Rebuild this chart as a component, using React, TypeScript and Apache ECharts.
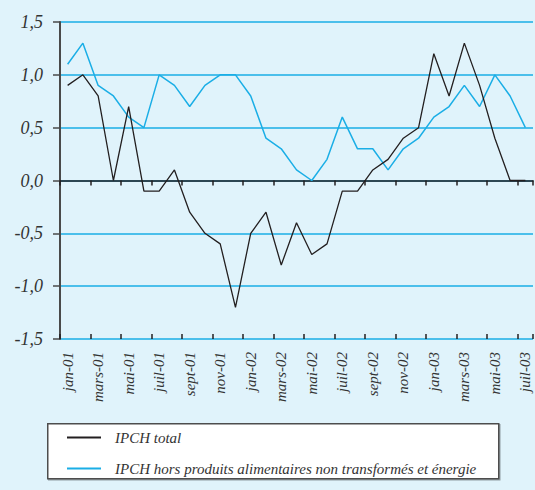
import React, { useEffect, useRef } from "react";
import * as echarts from "echarts";

const categories = [
  "jan-01", "févr-01", "mars-01", "avr-01", "mai-01", "juin-01", "juil-01", "août-01", "sept-01", "oct-01", "nov-01", "déc-01",
  "jan-02", "févr-02", "mars-02", "avr-02", "mai-02", "juin-02", "juil-02", "août-02", "sept-02", "oct-02", "nov-02", "déc-02",
  "jan-03", "févr-03", "mars-03", "avr-03", "mai-03", "juin-03", "juil-03",
];

const ipchTotal = [
  0.9, 1.0, 0.8, 0.0, 0.7, -0.1, -0.1, 0.1, -0.3, -0.5, -0.6, -1.2,
  -0.5, -0.3, -0.8, -0.4, -0.7, -0.6, -0.1, -0.1, 0.1, 0.2, 0.4, 0.5,
  1.2, 0.8, 1.3, 0.9, 0.4, 0.0, 0.0,
];

const ipchHors = [
  1.1, 1.3, 0.9, 0.8, 0.6, 0.5, 1.0, 0.9, 0.7, 0.9, 1.0, 1.0,
  0.8, 0.4, 0.3, 0.1, 0.0, 0.2, 0.6, 0.3, 0.3, 0.1, 0.3, 0.4,
  0.6, 0.7, 0.9, 0.7, 1.0, 0.8, 0.5,
];

const seriesNames = [
  "IPCH total",
  "IPCH hors produits alimentaires non transformés et énergie",
];

const FONT = "Liberation Serif";
const BLUE = "#1aaee6";
const DARK = "#231f20";
const AXIS = "#4a4a4a";
const TEXT = "#333333";

export default function App() {
  const ref = useRef<HTMLDivElement>(null);
  useEffect(() => {
    if (!ref.current) return;
    const chart = echarts.init(ref.current, null, { renderer: "svg" });
    chart.setOption({
      animation: false,
      backgroundColor: "#e0f3fb",
      textStyle: { fontFamily: FONT },
      grid: { left: 60, right: 2, top: 22, bottom: 151, containLabel: false },
      xAxis: [
        {
          type: "category",
          position: "bottom",
          data: categories,
          boundaryGap: true,
          axisLine: { lineStyle: { color: DARK, width: 1.5 } },
          axisTick: { show: true, inside: false, length: 5, interval: 1, lineStyle: { color: DARK, width: 1.5 } },
          axisLabel: {
            interval: 1,
            rotate: 90,
            margin: 13,
            color: TEXT,
            fontFamily: FONT,
            fontStyle: "italic",
            fontSize: 15,
          },
          splitLine: { show: false },
        },
        {
          type: "category",
          position: "bottom",
          data: categories,
          boundaryGap: true,
          axisLine: { show: false },
          axisTick: { show: true, inside: true, length: 5, interval: 1, lineStyle: { color: DARK, width: 1.5 } },
          axisLabel: { show: false },
          splitLine: { show: false },
        },
      ],
      yAxis: {
        type: "value",
        min: -1.5,
        max: 1.5,
        interval: 0.5,
        axisLine: { show: true, lineStyle: { color: AXIS, width: 2 } },
        axisTick: { show: true, inside: false, length: 7, lineStyle: { color: AXIS, width: 1.5 } },
        axisLabel: {
          margin: 17,
          color: TEXT,
          fontFamily: FONT,
          fontStyle: "italic",
          fontSize: 18,
          formatter: (v: number) => v.toFixed(1).replace(".", ","),
        },
        splitLine: { show: true, lineStyle: { color: BLUE, width: 1.5 } },
      },
      legend: {
        orient: "vertical",
        left: 67,
        top: 429,
        itemWidth: 34,
        itemHeight: 2,
        itemGap: 14,
        icon: "rect",
        padding: 0,
        textStyle: {
          color: TEXT,
          fontFamily: FONT,
          fontStyle: "italic",
          fontSize: 15,
          lineHeight: 17,
          padding: [0, 0, 0, 9],
        },
        data: seriesNames,
      },
      graphic: [
        {
          type: "rect",
          left: 47,
          top: 423,
          z: -1,
          shape: { width: 451, height: 55 },
          style: { fill: "#ffffff", stroke: "#4d4d4d", lineWidth: 1.5, shadowColor: "rgba(0,0,0,0.35)", shadowOffsetX: 1, shadowOffsetY: 1, shadowBlur: 1 },
        },
      ],
      series: [
        {
          name: seriesNames[0],
          type: "line",
          data: ipchTotal,
          symbol: "none",
          color: DARK,
          lineStyle: { color: DARK, width: 1.3 },
          z: 3,
        },
        {
          name: seriesNames[1],
          type: "line",
          data: ipchHors,
          symbol: "none",
          color: BLUE,
          lineStyle: { color: BLUE, width: 1.5 },
          z: 2,
        },
      ],
    });
    return () => chart.dispose();
  }, []);
  return (
    <div
      ref={ref}
      style={{ position: "fixed", left: 0, top: 0, width: 535, height: 490 }}
    />
  );
}
